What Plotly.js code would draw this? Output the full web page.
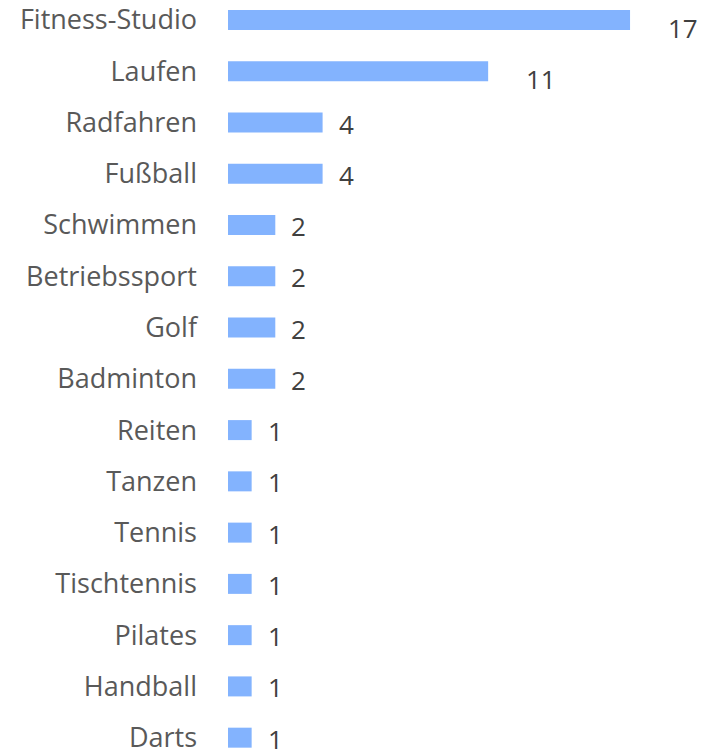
<!DOCTYPE html>
<html>
<head>
<meta charset="utf-8">
<script src="https://cdn.plot.ly/plotly-3.0.1.min.js"></script>
<style>html,body{margin:0;padding:0;background:#fff;}#chart{width:711px;height:751px;}</style>
</head>
<body>
<div id="chart"></div>
<script>
const categories = ["Fitness-Studio","Laufen","Radfahren","Fußball","Schwimmen","Betriebssport","Golf","Badminton","Reiten","Tanzen","Tennis","Tischtennis","Pilates","Handball","Darts"];
const values = [17,11,4,4,2,2,2,2,1,1,1,1,1,1,1];

const pxPerUnit = 23.65;
const plotW = 711 - 228;

const annotations = categories.map((c, i) => {
  const big = values[i] >= 10;
  return {
    x: values[i], y: c, xref: 'x', yref: 'y',
    text: String(values[i]), showarrow: false,
    xanchor: 'left', yanchor: 'middle',
    xshift: big ? 36 : 14, yshift: big ? -8 : -1,
    font: {family: 'Open Sans', size: 26, color: '#404040'}
  };
});

const trace = {
  type: 'bar', orientation: 'h',
  x: values, y: categories,
  marker: {color: '#83b3fe'},
  width: 0.39,
  hoverinfo: 'none'
};

const layout = {
  width: 711, height: 751,
  margin: {l: 228, r: 0, t: 0, b: 0, pad: 0},
  paper_bgcolor: '#ffffff', plot_bgcolor: '#ffffff',
  showlegend: false,
  xaxis: {range: [0, plotW / pxPerUnit], visible: false, fixedrange: true},
  yaxis: {
    type: 'category', categoryorder: 'array', categoryarray: categories,
    range: [14.26, -0.39],
    showgrid: false, zeroline: false, showline: false,
    ticks: '', ticklabelstandoff: 30,
    tickfont: {family: 'Open Sans', size: 27, color: '#595959'}
  },
  annotations: annotations
};

Plotly.newPlot('chart', [trace], layout, {displayModeBar: false, staticPlot: true});
</script>
</body>
</html>
